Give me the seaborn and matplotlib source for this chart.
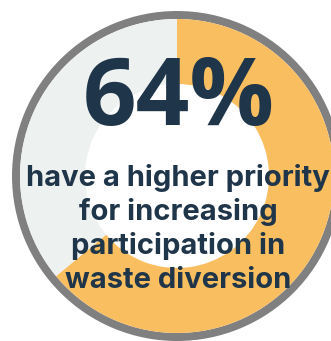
import matplotlib
matplotlib.use("Agg")
import matplotlib.pyplot as plt
import seaborn as sns

# Survey share and donut segments
share_labels = ["Higher priority", "Other"]
share_values = [64, 36]
headline = "64%"
caption_lines = [
    "have a higher priority",
    "for increasing",
    "participation in",
    "waste diversion",
]

segment_colors = ["#F9BE5F", "#EDF1F0"]
ring_color = "#808080"
text_color = "#1F3549"

sns.set_theme(style="white")
plt.rcParams["font.family"] = ["Inter", "DejaVu Sans"]

W, H = 331, 341
fig = plt.figure(figsize=(W / 100, H / 100), dpi=100)
ax = fig.add_axes([0, 0, 1, 1])

cx, cy = 177, H - 176
r_out, ring_w, r_in = 165, 8, 92

# outer grey ring
ax.pie([1], colors=[ring_color], radius=r_out, center=(cx, cy),
       wedgeprops=dict(width=ring_w, linewidth=0), frame=True)
# donut segments, clockwise from 12 o'clock
ax.pie(share_values, colors=segment_colors, radius=r_out - ring_w,
       center=(cx, cy), startangle=90, counterclock=False,
       wedgeprops=dict(width=r_out - ring_w - r_in, linewidth=0), frame=True)
ax.set_xlim(0, W)
ax.set_ylim(0, H)
ax.set_aspect("equal")
ax.axis("off")

big = ax.text(179, H - 125, headline, ha="center", va="baseline",
              fontsize=70, fontweight="bold", color=text_color,
              family=["Open Sans", "DejaVu Sans"])
caps = []
for i, line in enumerate(caption_lines):
    caps.append(ax.text(178, H - (186 + 34 * i), line, ha="center",
                        va="baseline", fontsize=18, fontweight="bold",
                        color=text_color))

# fit type sizes to the intended widths
fig.canvas.draw()
rend = fig.canvas.get_renderer()
w = big.get_window_extent(rend).width
big.set_fontsize(70 * 192 / w)
w = caps[0].get_window_extent(rend).width
fs = 18 * 303 / w
for t in caps:
    t.set_fontsize(fs)

fig.savefig("out.png", dpi=100, facecolor="white")
